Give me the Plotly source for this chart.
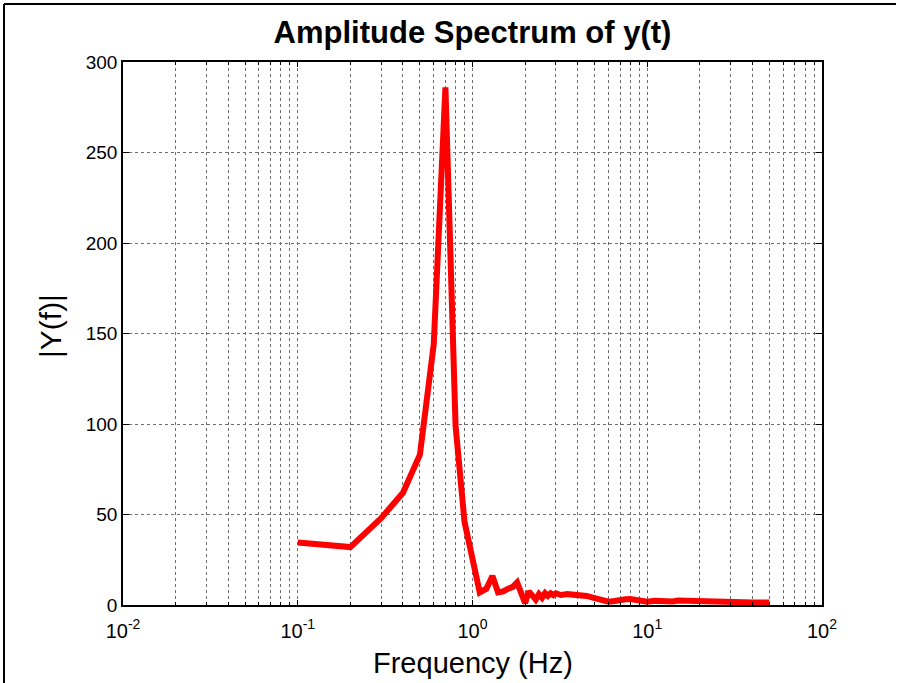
import plotly.graph_objects as go

freq = [0.1, 0.2, 0.3, 0.4, 0.5, 0.6, 0.7, 0.8, 0.9, 1.0,
        1.1, 1.2, 1.3, 1.4, 1.5, 1.6, 1.7, 1.8, 1.9, 2.0,
        2.1, 2.2, 2.3, 2.4, 2.5, 2.6, 2.7, 2.8, 2.9, 3.0,
        3.2, 3.5, 3.8, 4.0, 4.5, 5.0, 5.5, 6.0, 6.5, 7.0,
        7.5, 8.0, 8.5, 9.0, 10, 11, 12, 13, 14, 15,
        16, 18, 20, 22, 25, 28, 30, 35, 40, 45, 50]
amp = [34.5, 32, 48, 62, 83, 144, 286, 99, 46, 25,
       7, 9, 16, 7, 7.5, 9, 10, 12.5, 7, 1,
       7.5, 5.5, 3, 6, 4, 6.5, 5, 6.5, 5.5, 6.5,
       5.5, 6, 5.5, 6, 5, 3.8, 2.8, 1.8, 2.2, 3,
       3.2, 3.3, 3.0, 2.5, 1.8, 2.3, 2.2, 1.8, 2.0, 2.5,
       2.4, 1.8, 2.2, 1.6, 1.5, 1.5, 1.5, 1.4, 1.4, 1.4, 1.4]

x_major = [0.01, 0.1, 1, 10, 100]
x_major_text = ["10<sup>-2</sup>", "10<sup>-1</sup>", "10<sup>0</sup>", "10<sup>1</sup>", "10<sup>2</sup>"]
x_minor = [m * d for d in [0.01, 0.1, 1, 10] for m in range(2, 10)]
y_ticks = [0, 50, 100, 150, 200, 250, 300]

FONT = "Liberation Sans, Arial, sans-serif"

fig = go.Figure()
fig.add_trace(go.Scatter(x=freq, y=amp, mode="lines",
                         line=dict(color="#ff0000", width=6), showlegend=False))

grid_color = "#6e6e6e"
fig.update_xaxes(type="log", range=[-2, 2], automargin=False,
                 tickmode="array", tickvals=x_major, ticktext=x_major_text,
                 ticks="inside", ticklen=5, tickcolor="black", tickwidth=1,
                 showline=True, linecolor="black", linewidth=1.5, mirror="allticks",
                 showgrid=True, gridcolor=grid_color, griddash="dot", gridwidth=1,
                 minor=dict(tickmode="array", tickvals=x_minor, ticks="inside", ticklen=3,
                            tickcolor="black", showgrid=True, gridcolor=grid_color,
                            griddash="dot", gridwidth=1),
                 tickfont=dict(family=FONT, size=20, color="black"),
                 ticklabelstandoff=7,
                 zeroline=False)
fig.update_yaxes(range=[0, 300], automargin=False, tickmode="array", tickvals=y_ticks,
                 ticks="inside", ticklen=6, tickcolor="black", tickwidth=1,
                 showline=True, linecolor="black", linewidth=1.5, mirror="allticks",
                 showgrid=True, gridcolor=grid_color, griddash="dot", gridwidth=1,
                 tickfont=dict(family=FONT, size=19, color="black"),
                 zeroline=False)

fig.update_layout(
    width=905, height=683,
    margin=dict(l=123, r=83, t=62, b=78),
    paper_bgcolor="white", plot_bgcolor="white",
    title=dict(text="<b>Amplitude Spectrum of y(t)</b>", x=0.5, xref="paper",
               y=1 - 32 / 683, yanchor="middle",
               font=dict(family=FONT, size=31, color="black")),
)

# axis titles
fig.add_annotation(text="Frequency (Hz)", xref="paper", yref="paper",
                   x=0.5, y=(605 - 663) / 543, xanchor="center", yanchor="middle",
                   showarrow=False, font=dict(family=FONT, size=29, color="black"))
fig.add_annotation(text="|Y(f)|", xref="paper", yref="paper",
                   x=(50 - 123) / 699, y=(605 - 326) / 543, xanchor="center", yanchor="middle",
                   textangle=-90, showarrow=False, font=dict(family=FONT, size=30, color="black"))

# outer figure frame (left and top edges visible in the reference)
fig.add_shape(type="line", xref="paper", yref="paper",
              x0=(4 - 123) / 699, x1=(4 - 123) / 699, y0=(605 - 4) / 543, y1=(605 - 690) / 543,
              line=dict(color="black", width=2))
fig.add_shape(type="line", xref="paper", yref="paper",
              x0=(4 - 123) / 699, x1=(896 - 123) / 699, y0=(605 - 4) / 543, y1=(605 - 4) / 543,
              line=dict(color="black", width=2))

fig.write_html("out.html")
